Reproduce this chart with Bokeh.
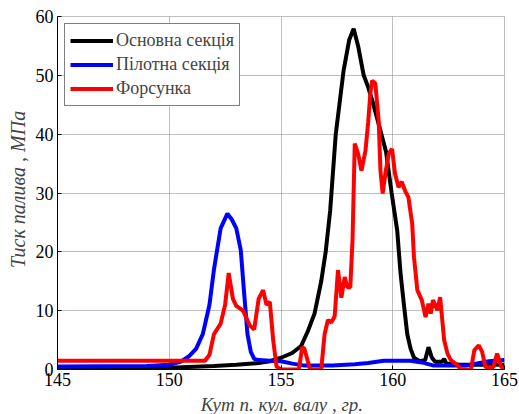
import math
from bokeh.plotting import figure
from bokeh.models import Range1d, Legend, LegendItem, Label
from bokeh.embed import file_html
from bokeh.resources import INLINE

# ---- data ----
main_x = [145, 148, 150, 152, 153, 154, 154.5, 155, 155.5, 155.9, 156.2, 156.5, 156.8, 157.0, 157.2,
          157.45, 157.8, 158.05, 158.25, 158.45, 158.7, 158.9, 159.1, 159.45, 159.7, 159.95, 160.2,
          160.35, 160.5, 160.65, 160.8, 160.95, 161.2, 161.45, 161.6, 161.75, 161.9, 162.2, 162.3,
          162.4, 163, 165]
main_y = [0, 0.1, 0.3, 0.6, 0.8, 1.1, 1.4, 2.0, 2.8, 4.0, 6.5, 9.5, 15, 20, 27,
          40, 50.8, 56, 57.9, 55, 50, 48, 45.5, 40.6, 37, 30, 23.6,
          16.3, 11, 6, 3.5, 2, 1.4, 1.6, 3.8, 2.0, 1.3, 1.3, 1.8,
          1.0, 0.8, 0.8]

pilot_x = [145, 149, 150, 150.5, 150.9, 151.2, 151.5, 151.8, 152.0, 152.3, 152.6, 152.8, 153.0,
           153.2, 153.35, 153.5, 153.65, 153.8, 154.0, 154.5, 155.0, 155.5, 156.0, 157.3, 158.3,
           158.9, 159.6, 160.3, 160.8, 161.3, 161.8, 163.3, 164.3, 165]
pilot_y = [0.5, 0.6, 0.8, 1.3, 2.3, 3.5, 6, 11, 17, 24, 26.5, 25.5, 24,
           20.3, 13, 6, 3, 1.8, 1.6, 1.5, 1.4, 1.0, 0.7, 0.7, 0.9,
           1.1, 1.5, 1.5, 1.5, 1.2, 0.7, 0.7, 1.4, 1.6]

inj_x = [145, 151.6, 151.8, 152.0, 152.3, 152.5, 152.66, 152.85, 153.0, 153.3, 153.6, 153.8, 154.0,
         154.2, 154.35, 154.5, 154.65, 154.8, 155.0, 155.8, 155.95, 156.05, 156.3, 156.8, 156.95,
         157.1, 157.25, 157.4, 157.55, 157.7, 157.85, 157.97, 158.1, 158.2, 158.3, 158.45, 158.6,
         158.78, 158.9, 159.0, 159.08, 159.22, 159.37, 159.45, 159.55, 159.67, 159.82, 159.97,
         160.1, 160.26, 160.4, 160.57, 160.7, 160.87, 160.95, 161.1, 161.3, 161.47, 161.6, 161.7,
         161.8, 162.0, 162.12, 162.3, 162.45, 162.6, 162.9, 163.05, 163.5, 163.65, 163.85, 164.0,
         164.15, 164.5, 164.67, 164.85, 165]
inj_y = [1.5, 1.5, 2.5, 6, 7.8, 11, 16.4, 12, 10.8, 10, 7.5, 6.8, 12,
         13.5, 11, 11.5, 5, 0.5, 0, 0, 3.8, 3.5, 0, 0, 6,
         8.4, 8.0, 9, 16.9, 12.2, 15.7, 14, 14, 22, 38.4, 36.7, 33.8,
         37.2, 42, 47, 49.1, 48.6, 42.3, 33.8, 29.9, 33.3, 36.7, 37.5,
         33.3, 31.0, 31.9, 30.2, 29.3, 24.8, 19.1, 13.5, 11.8, 8.9, 11.2, 9.5,
         11.8, 10.1, 12.3, 5, 2.7, 1.6, 0.7, 0, 0, 3.3, 4.1, 3.0,
         0.4, 0.4, 2.7, 0.5, 0]

series_names = ["Основна секція", "Пілотна секція", "Форсунка"]
x_ticks = [145, 150, 155, 160, 165]
y_ticks = [0, 10, 20, 30, 40, 50, 60]
x_title = "Кут п. кул. валу , гр."
y_title = "Тиск палива , МПа"

FONT = "'Liberation Serif', 'Times New Roman', serif"

p = figure(width=519, height=414, output_backend="svg", toolbar_location=None,
           x_range=Range1d(145, 165), y_range=Range1d(0, 60),
           min_border_left=57, min_border_right=15, min_border_top=16, min_border_bottom=45)
p.background_fill_color = "white"
p.border_fill_color = "white"
p.outline_line_color = "#808080"
p.outline_line_dash = "1 1"

for ax, ticks in ((p.xaxis, x_ticks), (p.yaxis, y_ticks)):
    ax.ticker = ticks
    ax.major_label_text_font = FONT
    ax.major_label_text_font_size = "18px"
    ax.major_label_text_color = "black"
    ax.axis_line_color = "black"
    ax.major_tick_line_color = "black"
    ax.major_tick_in = 4
    ax.major_tick_out = 0
    ax.minor_tick_line_color = None
p.xaxis.major_label_standoff = 3
p.yaxis.major_label_standoff = 4

p.grid.grid_line_color = "#808080"
p.grid.grid_line_dash = "1 1"

r1 = p.line(main_x, main_y, line_color="black", line_width=4)
r2 = p.line(pilot_x, pilot_y, line_color="blue", line_width=4)
r3 = p.line(inj_x, inj_y, line_color="red", line_width=4)

legend = Legend(items=[LegendItem(label=series_names[0], renderers=[r1]),
                       LegendItem(label=series_names[1], renderers=[r2]),
                       LegendItem(label=series_names[2], renderers=[r3])],
                location="top_left")
legend.margin = 7
legend.padding = 5
legend.spacing = 1
legend.glyph_width = 43
legend.glyph_height = 23
legend.label_height = 23
legend.label_standoff = 3
legend.label_text_font = FONT
legend.label_text_font_size = "18px"
legend.border_line_color = "black"
legend.border_line_width = 1
legend.background_fill_alpha = 1
p.add_layout(legend)

# axis titles, placed in side panels so they are drawn outside the frame
p.add_layout(Label(x=155.04, y=-5.9, text=x_title, text_align="center", text_baseline="middle",
                   text_font=FONT, text_font_size="19px", text_font_style="italic"), "below")
p.add_layout(Label(x=143.25, y=30.6, text=y_title, angle=math.pi / 2, text_align="center",
                   text_baseline="middle", text_font=FONT, text_font_size="20px",
                   text_font_style="italic"), "left")

open("out.html", "w").write(file_html(p, INLINE))
